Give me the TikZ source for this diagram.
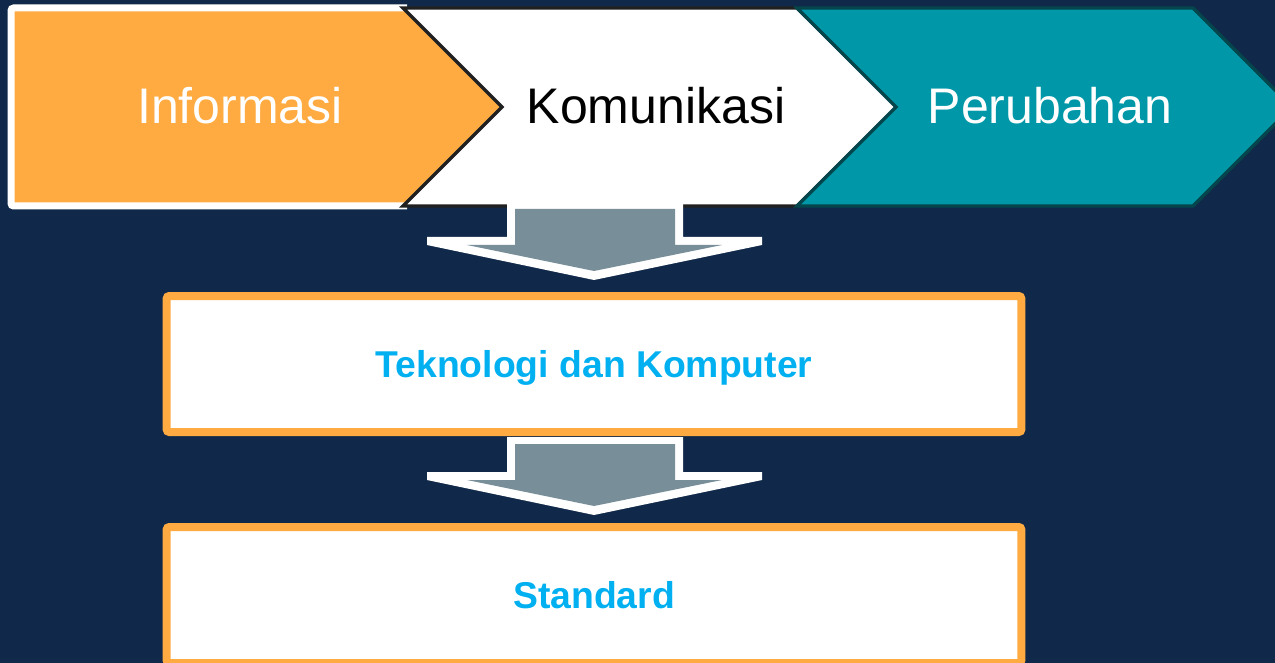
\documentclass[tikz,border=0pt]{standalone}
\usepackage{fontspec}
\setmainfont{Liberation Sans}
\usepackage{xcolor}
\usepackage{tikz}
\usetikzlibrary{positioning}

\definecolor{latar}{HTML}{10294A}
\definecolor{jingga}{HTML}{FFAB42}
\definecolor{tosca}{HTML}{0098A8}
\definecolor{toscagelap}{HTML}{04464C}
\definecolor{garis}{HTML}{202020}
\definecolor{abu}{HTML}{788F9A}
\definecolor{biru}{HTML}{00B0F0}

\begin{document}
\begin{tikzpicture}[x=0.75pt,y=-0.75pt]
	\tikzstyle{judul}=[anchor=base,inner sep=0pt,font=\fontsize{37.5}{40}\selectfont]
	\tikzstyle{kotak}=[rectangle,draw=jingga,fill=white,line width=6pt,rounded corners=2pt,
		minimum width=641pt,minimum height=102pt,text=biru,text height=20.2pt,text depth=0pt,
		font=\bfseries\fontsize{28}{30}\selectfont]
	\tikzstyle{panahputih}=[fill=white]
	\tikzstyle{panahisi}=[fill=abu]

	% latar
	\fill[latar] (0,0) rectangle (1275,663);
	\useasboundingbox (0,0) rectangle (1275,663);

	% tiga chevron
	\fill[jingga] (11,8) -- (405,8) -- (503,107) -- (405,206) -- (11,206) -- cycle;
	\draw[white,line width=5.25pt,rounded corners=2pt] (407,8) -- (11,8) -- (11,206) -- (407,206);
	\draw[garis,fill=white,line width=2.5pt,line join=miter]
		(403,8) -- (797,8) -- (897,107) -- (797,206) -- (403,206) -- (502,107) -- cycle;
	\draw[toscagelap,fill=tosca,line width=2.5pt,line join=miter]
		(797,8) -- (1193,8) -- (1292,107) -- (1193,206) -- (797,206) -- (896,107) -- cycle;

	\node[judul,text=white](info) at (240,124){Informasi};
	\node[judul,text=black](komu) at (656,124){Komunikasi};
	\node[judul,text=white](ubah) at (1050,124){Perubahan};

	% kotak
	\node[kotak](tekno) at (594,364){Teknologi dan Komputer};
	\node[kotak](std) at (594,595){Standard};

	% panah ke bawah
	\foreach \dy in {0,235}{
		\fill[panahputih] (507,202+\dy) -- (683,202+\dy) -- (683,237+\dy) -- (762,237+\dy) -- (762,245+\dy)
			-- (594,280+\dy) -- (427,245+\dy) -- (427,237+\dy) -- (507,237+\dy) -- cycle;
		\fill[panahisi] (515,209+\dy) -- (675,209+\dy) -- (675,245+\dy) -- (722,245+\dy)
			-- (594,271+\dy) -- (467,245+\dy) -- (515,245+\dy) -- cycle;
	}
\end{tikzpicture}
\end{document}
